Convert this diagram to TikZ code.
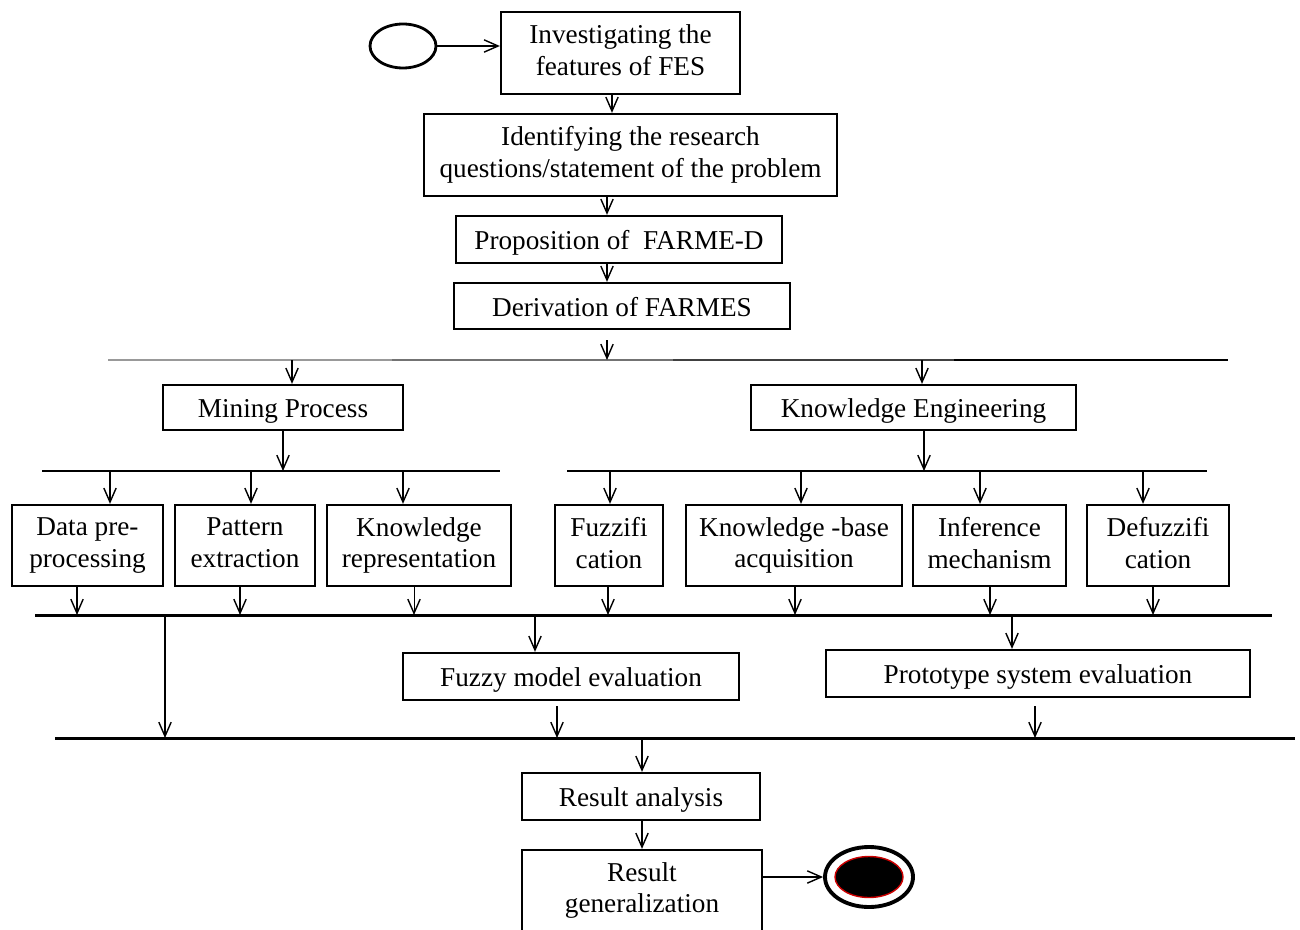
\documentclass[tikz,border=0pt]{standalone}
\usepackage{fontspec}
\setmainfont{Liberation Serif}
\usetikzlibrary{arrows.meta,shapes.geometric}
\newcommand\topstrut{\rule{0pt}{15pt}}
\newcommand\botstrut{\rule[-3pt]{0pt}{3pt}}
\begin{document}
\begin{tikzpicture}[x=0.02cm,y=-0.02cm,
  box/.style={draw,line width=1.3pt,inner sep=0pt,align=center,
    font=\fontsize{15.5}{18}\selectfont,
    execute at begin node=\topstrut,execute at end node=\botstrut},
  wh/.style 2 args={minimum width=#1*0.02cm,minimum height=#2*0.02cm},
  arr/.style={line width=0.8pt,-{Straight Barb[length=8pt,width=7pt,line width=0.8pt]}},
  bar/.style={line width=1pt},
  thickbar/.style={line width=1.7pt}]
\useasboundingbox (0,0) rectangle (1300,929);

% start and end states
\node[ellipse,draw,line width=1.6pt,wh={66}{44}] (st) at (403,46) {};
\node[ellipse,draw,line width=2.2pt,wh={88}{60}] (en) at (869,877) {};
\node[ellipse,draw=red!80!black,fill=black,line width=0.8pt,wh={68}{41}] (enc) at (869,877) {};

% main sequence
\node[box,wh={239}{82}] (b1) at (620.5,53) {Investigating the\\features of FES};
\node[box,wh={413}{82}] (b2) at (630.5,155) {Identifying the research\\questions/statement of the problem};
\node[box,wh={326}{47}] (b3) at (619,239.5) {Proposition of~ FARME-D};
\node[box,wh={336}{46}] (b4) at (622,306) {Derivation of FARMES};

% two branches
\node[box,wh={240}{45}] (mp) at (283,407.5) {Mining Process};
\node[box,wh={325}{45}] (ke) at (913.5,407.5) {Knowledge Engineering};

% mining steps
\node[box,wh={151}{81}] (dp) at (87.5,545.5) {Data pre-\\processing};
\node[box,wh={140}{81}] (pe) at (245,545.5) {Pattern\\extraction};
\node[box,wh={184}{81}] (kr) at (419,545.5) {Knowledge\\representation};

% knowledge engineering steps
\node[box,wh={108}{81}] (fz) at (609,545.5) {Fuzzifi\\cation};
\node[box,wh={216}{81}] (kb) at (794,545.5) {Knowledge -base\\acquisition};
\node[box,wh={153}{81}] (im) at (989.5,545.5) {Inference\\mechanism};
\node[box,wh={142}{81}] (df) at (1158,545.5) {Defuzzifi\\cation};

% evaluation
\node[box,wh={336}{47}] (fm) at (571,676.5) {Fuzzy model evaluation};
\node[box,wh={424}{47}] (ps) at (1038,673.5) {Prototype system evaluation};

% results
\node[box,wh={238}{47}] (ra) at (641,796.5) {Result analysis};
\node[box,wh={240}{81}] (rg) at (642,890.5) {Result\\generalization};

% synchronisation bars
\coordinate (aL) at (108,360);  \coordinate (aR) at (1228,360);
\coordinate (bL) at (42,471);   \coordinate (bR) at (500,471);
\coordinate (cL) at (567,471);  \coordinate (cR) at (1207,471);
\coordinate (dL) at (35,615);   \coordinate (dR) at (1272,615);
\coordinate (eL) at (55,738);   \coordinate (eR) at (1295,738);

\draw[bar,black!40] (aL) -- (392,360);
\draw[bar,black!55] (392,360) -- (673,360);
\draw[bar,black!75] (673,360) -- (954,360);
\draw[bar] (954,360) -- (aR);
\draw[bar] (bL) -- (bR);
\draw[bar] (cL) -- (cR);
\draw[thickbar] (dL) -- (dR);
\draw[thickbar] (eL) -- (eR);

% connectors
\draw[arr] (st.east) -- (st.east -| b1.west);
\draw[arr] (b1.south -| 612,0) -- (b2.north -| 612,0);
\draw[arr] (b2.south -| 607,0) -- (b3.north -| 607,0);
\draw[arr] (b3.south -| 607,0) -- (b4.north -| 607,0);
\draw[arr,shorten <=0.2cm] (b4.south -| 607,0) -- (aL -| 607,0);

\draw[arr] (aL -| 292,0) -- (mp.north -| 292,0);
\draw[arr] (aL -| 922,0) -- (ke.north -| 922,0);
\draw[arr] (mp.south -| 283,0) -- (bL -| 283,0);
\draw[arr] (ke.south -| 924,0) -- (cL -| 924,0);

\draw[arr] (bL -| 110,0) -- (dp.north -| 110,0);
\draw[arr] (bL -| 251,0) -- (pe.north -| 251,0);
\draw[arr] (bL -| 403,0) -- (kr.north -| 403,0);
\draw[arr] (cL -| 610,0) -- (fz.north -| 610,0);
\draw[arr] (cL -| 801,0) -- (kb.north -| 801,0);
\draw[arr] (cL -| 980,0) -- (im.north -| 980,0);
\draw[arr] (cL -| 1143,0) -- (df.north -| 1143,0);

\draw[arr] (dp.south -| 77,0) -- (dL -| 77,0);
\draw[arr] (pe.south -| 240,0) -- (dL -| 240,0);
\draw[arr,line width=0.5pt] (kr.south -| 414,0) -- (dL -| 414,0);
\draw[arr] (fz.south -| 608,0) -- (dL -| 608,0);
\draw[arr] (kb.south -| 795,0) -- (dL -| 795,0);
\draw[arr] (im.south -| 990,0) -- (dL -| 990,0);
\draw[arr] (df.south -| 1153,0) -- (dL -| 1153,0);

\draw[arr] (dL -| 165,0) -- (eL -| 165,0);
\draw[arr] (dL -| 535,0) -- (fm.north -| 535,0);
\draw[arr] (dL -| 1012,0) -- (ps.north -| 1012,0);
\draw[arr,shorten <=0.1cm] (fm.south -| 557,0) -- (eL -| 557,0);
\draw[arr,shorten <=0.16cm] (ps.south -| 1035,0) -- (eL -| 1035,0);

\draw[arr] (eL -| 642,0) -- (ra.north -| 642,0);
\draw[arr] (ra.south -| 642,0) -- (rg.north -| 642,0);
\draw[arr] (rg.east |- 0,877) -- (en.west);
\end{tikzpicture}
\end{document}
